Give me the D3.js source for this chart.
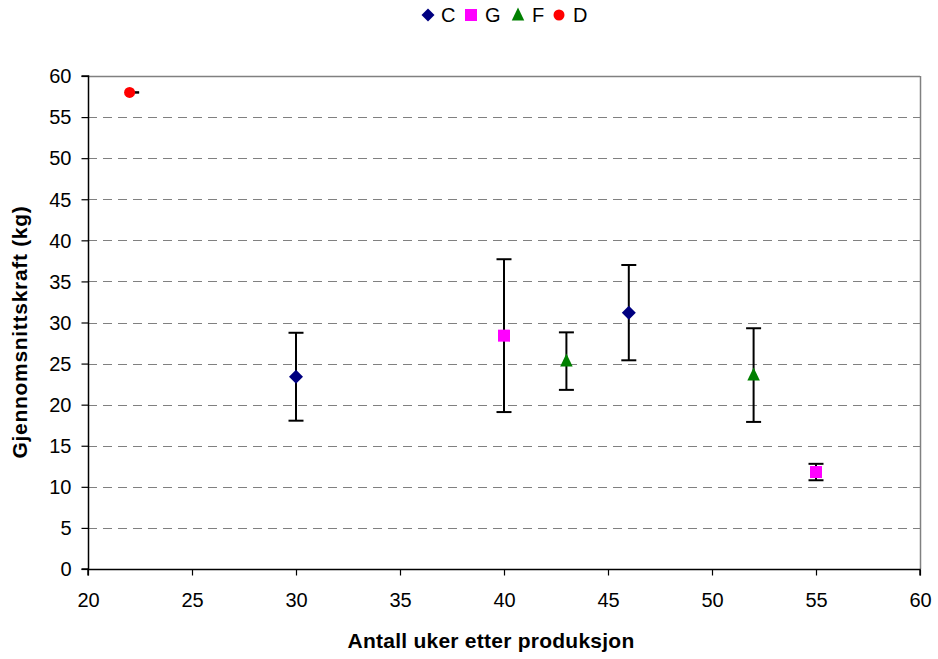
<!DOCTYPE html>
<html>
<head>
<meta charset="utf-8">
<script src="https://cdn.jsdelivr.net/npm/d3@7"></script>
<style>
  html, body { margin: 0; padding: 0; background: #fff; }
  svg text { font-family: "Liberation Sans", Arial, sans-serif; }
</style>
</head>
<body>
<svg id="chart" width="938" height="659"></svg>
<script>
// Series, weeks after production, mean force and error half-width
const seriesNames = ["C", "G", "F", "D"];
const seriesColors = ["#000080", "#ff00ff", "#008000", "#ff0000"];
const seriesShapes = ["diamond", "square", "triangle", "circle"];

const weeksC = [30, 46];
const meanC = [23.4, 31.2];
const errC = [5.35, 5.8];

const weeksG = [40, 55];
const meanG = [28.4, 11.8];
const errG = [9.3, 1.0];

const weeksF = [43, 52];
const meanF = [25.3, 23.6];
const errF = [3.5, 5.7];

const weeksD = [22];
const meanD = [58];
const errD = [0];

const xTicks = [20, 25, 30, 35, 40, 45, 50, 55, 60];
const yTicks = [0, 5, 10, 15, 20, 25, 30, 35, 40, 45, 50, 55, 60];

const series = [
  { weeks: weeksC, mean: meanC, err: errC },
  { weeks: weeksG, mean: meanG, err: errG },
  { weeks: weeksF, mean: meanF, err: errF },
  { weeks: weeksD, mean: meanD, err: errD }
].map((s, i) => ({
  name: seriesNames[i], color: seriesColors[i], shape: seriesShapes[i],
  points: s.weeks.map((w, j) => ({ x: w, y: s.mean[j], e: s.err[j] }))
}));

const svg = d3.select("#chart");
const plotLeft = 88, plotRight = 920, plotTop = 76, plotBottom = 569;

const x = d3.scaleLinear().domain([20, 60]).range([plotLeft, plotRight]);
const y = d3.scaleLinear().domain([0, 60]).range([plotBottom, plotTop]);

function markerPath(shape, size) {
  if (shape === "diamond") {
    const r = size / 2;
    return `M0,${-r}L${r},0L0,${r}L${-r},0Z`;
  }
  if (shape === "square") {
    const r = size / 2 - 0.5;
    return `M${-r},${-r}H${r}V${r}H${-r}Z`;
  }
  if (shape === "triangle") {
    const h = size;
    const w = size - 0.5;
    return `M0,${-h / 2 - 1}L${w / 2},${h / 2 - 1}L${-w / 2},${h / 2 - 1}Z`;
  }
  const r = size / 2 - 1;
  return d3.arc()({ innerRadius: 0, outerRadius: r, startAngle: 0, endAngle: 2 * Math.PI });
}

// Horizontal dashed gridlines
svg.append("g")
  .selectAll("line")
  .data(yTicks.filter(t => t > 0 && t < 60))
  .join("line")
  .attr("x1", plotLeft).attr("x2", plotRight)
  .attr("y1", d => Math.round(y(d)) + 0.5).attr("y2", d => Math.round(y(d)) + 0.5)
  .attr("stroke", "#808080").attr("stroke-width", 1.2)
  .attr("stroke-dasharray", "9,6");

// Plot frame top and right (gray)
svg.append("line").attr("x1", plotLeft).attr("x2", plotRight)
  .attr("y1", plotTop + 0.5).attr("y2", plotTop + 0.5)
  .attr("stroke", "#808080").attr("stroke-width", 1.5);
svg.append("line").attr("x1", plotRight + 0.5).attr("x2", plotRight + 0.5)
  .attr("y1", plotTop).attr("y2", plotBottom)
  .attr("stroke", "#808080").attr("stroke-width", 1.5);

// Axes
const xAxis = d3.axisBottom(x).tickValues(xTicks).tickSize(6).tickPadding(6).tickFormat(d3.format("d"));
const yAxis = d3.axisLeft(y).tickValues(yTicks).tickSize(7).tickPadding(10).tickFormat(d3.format("d"));

const gx = svg.append("g").attr("transform", `translate(0,${plotBottom + 0.5})`).call(xAxis);
const gy = svg.append("g").attr("transform", `translate(${plotLeft + 0.5},0)`).call(yAxis);
[gx, gy].forEach(g => {
  g.select(".domain").attr("stroke", "#000").attr("stroke-width", 1.5);
  g.selectAll(".tick line").attr("stroke", "#000").attr("stroke-width", 1.2);
  g.selectAll(".tick text").attr("fill", "#000").attr("font-size", 20)
    .style("font-family", "'Liberation Sans', Arial, sans-serif");
});
gx.select(".domain").attr("d", `M${plotLeft},6V0H${plotRight}V6`);
gy.select(".domain").attr("d", `M-7,${plotBottom}H0V${plotTop}H-7`);
gx.selectAll(".tick text").attr("y", 37.5).attr("dy", null);
gy.selectAll(".tick text").attr("dy", "0.34em");

// Axis titles
svg.append("text")
  .attr("x", 491).attr("y", 648)
  .attr("text-anchor", "middle").attr("font-size", 21).attr("font-weight", "bold")
  .attr("letter-spacing", 0.25)
  .text("Antall uker etter produksjon");
svg.append("text")
  .attr("transform", `translate(27,332) rotate(-90)`)
  .attr("text-anchor", "middle").attr("font-size", 21).attr("font-weight", "bold")
  .attr("letter-spacing", 0.7)
  .text("Gjennomsnittskraft (kg)");

// Error bars and markers
const capHalf = 7.5;
series.forEach(s => {
  const g = svg.append("g");
  const eb = g.selectAll("g.eb").data(s.points).join("g").attr("class", "eb");
  eb.append("line")
    .attr("x1", d => x(d.x)).attr("x2", d => x(d.x))
    .attr("y1", d => y(d.y + d.e)).attr("y2", d => y(d.y - d.e))
    .attr("stroke", "#000").attr("stroke-width", 2);
  [1, -1].forEach(sign => {
    eb.append("line")
      .attr("x1", d => x(d.x) - (d.e === 0 ? -4 : capHalf)).attr("x2", d => x(d.x) + capHalf + (d.e === 0 ? 2 : 0))
      .attr("y1", d => y(d.y + sign * d.e)).attr("y2", d => y(d.y + sign * d.e))
      .attr("stroke", "#000").attr("stroke-width", 2);
  });
  g.selectAll("path.m").data(s.points).join("path").attr("class", "m")
    .attr("transform", d => `translate(${x(d.x)},${y(d.y)})`)
    .attr("d", markerPath(s.shape, s.shape === "diamond" ? 14 : 13))
    .attr("fill", s.color);
});

// Legend
const legendItems = [
  { sx: 428, tx: 441 },
  { sx: 471, tx: 485 },
  { sx: 518, tx: 532 },
  { sx: 559, tx: 573 }
];
const lg = svg.append("g");
series.forEach((s, i) => {
  const it = legendItems[i];
  lg.append("path")
    .attr("transform", `translate(${it.sx},15)`)
    .attr("d", markerPath(s.shape, s.shape === "diamond" ? 13 : 13))
    .attr("fill", s.color);
  lg.append("text")
    .attr("x", it.tx).attr("y", 22)
    .attr("font-size", 20)
    .text(s.name);
});
</script>
</body>
</html>
